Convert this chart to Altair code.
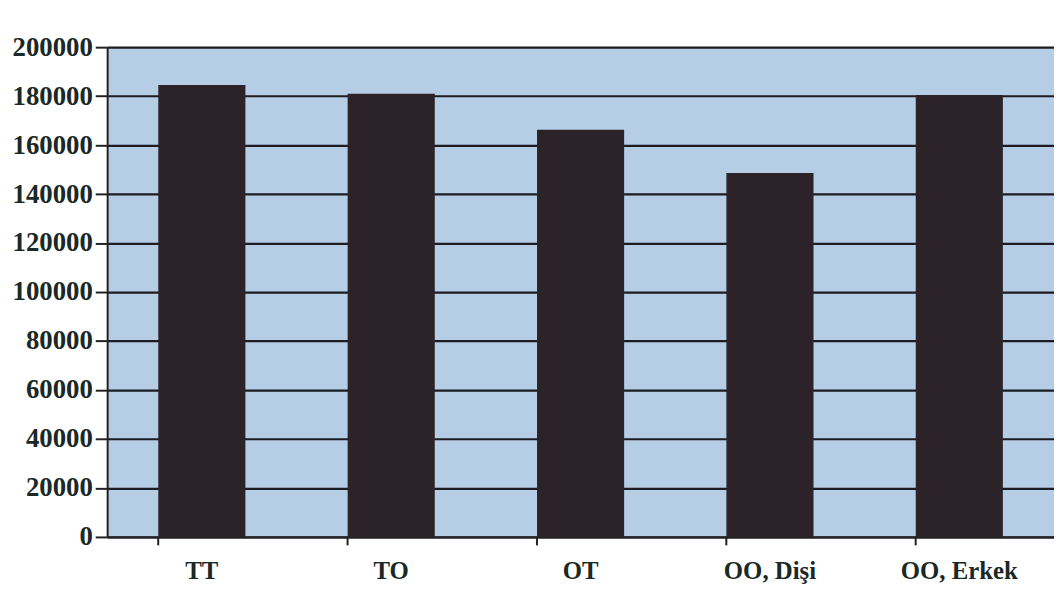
import altair as alt
import pandas as pd

categories = ["TT", "TO", "OT", "OO, Dişi", "OO, Erkek"]
values = [184500, 181000, 166300, 148600, 180500]

df = pd.DataFrame({"grup": categories, "deger": values})

font = "Times New Roman, Liberation Serif, serif"

chart = alt.Chart(df).mark_bar(color="#2b2327").encode(
    x=alt.X("grup:N", sort=categories, title=None,
            scale=alt.Scale(paddingInner=0.54, paddingOuter=0.27),
            axis=alt.Axis(labelAngle=0, labelFont=font, labelFontSize=25,
                          labelFontWeight="bold", labelColor="#1a2826",
                          labelPadding=14, bandPosition=0, ticks=True,
                          tickColor="#222", tickSize=8, tickWidth=2,
                          domainColor="#222", domainWidth=2, grid=False)),
    y=alt.Y("deger:Q", title=None,
            scale=alt.Scale(domain=[0, 200000], nice=False),
            axis=alt.Axis(values=list(range(0, 200001, 20000)), format="d",
                          labelFont=font, labelFontSize=27, labelFontWeight="bold",
                          labelColor="#1a2826", labelPadding=3,
                          tickColor="#222", tickSize=12, tickWidth=2,
                          domainColor="#222", domainWidth=2,
                          grid=True, gridColor="#1c1c22", gridWidth=2.2,
                          gridOpacity=1)),
).properties(
    width=955, height=494,
    padding={"left": 4, "top": 23, "right": 0, "bottom": 0},
).configure_view(
    fill="#b6cde6", stroke=None
)

chart.save("out.html", embed_options={"renderer": "svg", "actions": False})
